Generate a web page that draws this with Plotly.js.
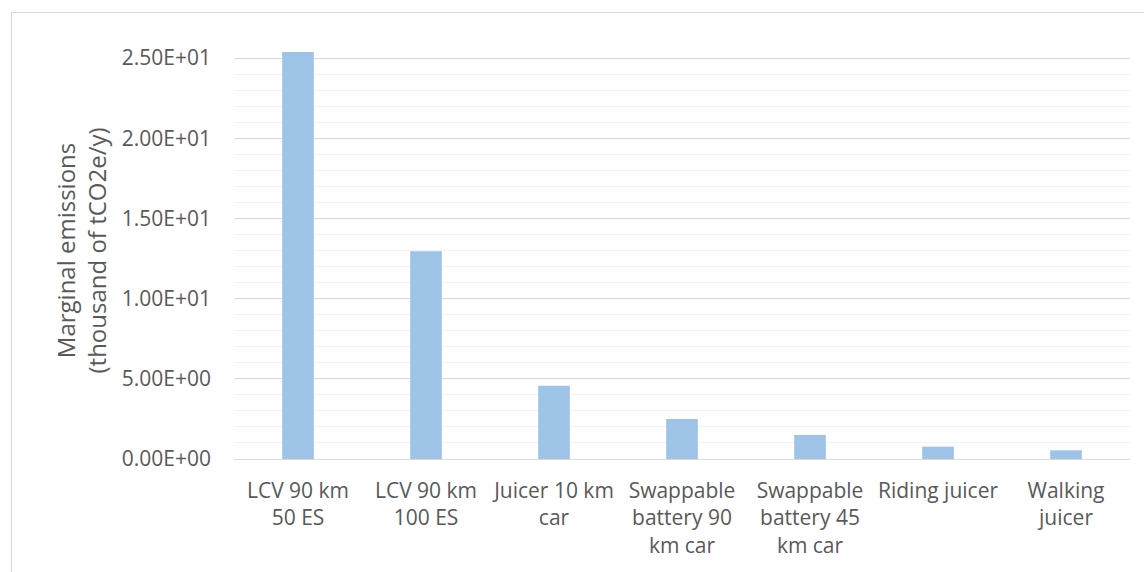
<!DOCTYPE html>
<html>
<head>
<meta charset="utf-8">
<script src="https://cdn.plot.ly/plotly-3.0.1.min.js"></script>
<style>
  html, body { margin: 0; padding: 0; background: #fff; }
  #wrap { position: relative; width: 1144px; height: 572px; overflow: hidden; }
  #chart { position: absolute; left: 0; top: 0; width: 1144px; height: 572px; }
  #frame { position: absolute; left: 11px; top: 12px; width: 1200px; height: 600px;
           border: 1px solid #D9D9D9; pointer-events: none; box-sizing: border-box; }
</style>
</head>
<body>
<div id="wrap">
  <div id="chart"></div>
  <div id="frame"></div>
</div>
<script>
const categories = [
  "LCV 90 km<br>50 ES",
  "LCV 90 km<br>100 ES",
  "Juicer 10 km<br>car",
  "Swappable<br>battery 90<br>km car",
  "Swappable<br>battery 45<br>km car",
  "Riding juicer",
  "Walking<br>juicer"
];
const emissions = [25.38, 12.96, 4.57, 2.49, 1.50, 0.77, 0.54];
const yTickVals = [0, 5, 10, 15, 20, 25];

function excelSci(v) {
  if (v === 0) return "0.00E+00";
  const s = v.toExponential(2).toUpperCase();
  const m = s.match(/^(-?[\d.]+)E([+-])(\d+)$/);
  return m[1] + "E" + m[2] + m[3].padStart(2, "0");
}
const yTickText = yTickVals.map(excelSci);

const font = "Open Sans, sans-serif";
const textColor = "#595959";

const trace = {
  type: "bar",
  x: categories,
  y: emissions,
  marker: { color: "#9DC3E6" },
  hoverinfo: "x+y"
};

const layout = {
  width: 1144,
  height: 572,
  margin: { l: 234, r: 14, t: 42, b: 113 },
  paper_bgcolor: "#ffffff",
  plot_bgcolor: "#ffffff",
  bargap: 0.753,
  showlegend: false,
  font: { family: font, color: textColor, size: 21 },
  xaxis: {
    type: "category",
    showgrid: false,
    zeroline: false,
    showline: false,
    ticks: "",
    tickfont: { family: font, size: 21, color: textColor },
    ticklabelstandoff: 17,
    automargin: false
  },
  yaxis: {
    range: [0, 26],
    tickvals: yTickVals,
    ticktext: yTickText,
    showgrid: true,
    gridcolor: "#D9D9D9",
    gridwidth: 1,
    zeroline: true,
    zerolinecolor: "#D9D9D9",
    zerolinewidth: 1,
    showline: false,
    ticks: "",
    tickfont: { family: font, size: 21, color: textColor },
    ticklabelstandoff: 22,
    automargin: false,
    minor: { dtick: 1, tick0: 0, showgrid: true, gridcolor: "#F2F2F2", gridwidth: 1, ticks: "" }
  },
  annotations: [{
    text: "Marginal emissions<br>(thousand of tCO2e/y)",
    xref: "paper", yref: "paper",
    x: -(234 - 80) / 896, y: 0.5,
    xanchor: "center", yanchor: "middle",
    textangle: -90,
    showarrow: false,
    font: { family: font, size: 24, color: textColor }
  }]
};

Plotly.newPlot("chart", [trace], layout, { displayModeBar: false, staticPlot: true });
</script>
</body>
</html>
